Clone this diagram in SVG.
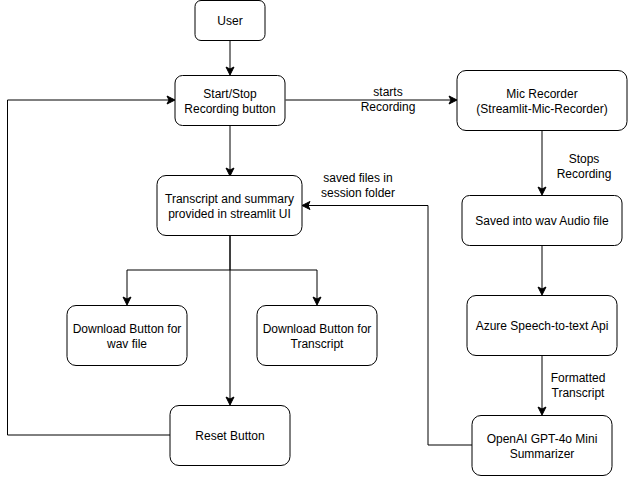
<svg xmlns="http://www.w3.org/2000/svg" width="628" height="477" viewBox="0 0 628 477">
<style>
.n{fill:#fff;stroke:#000;stroke-width:1}
.t{font-family:"Liberation Sans",Arial,sans-serif;font-size:12px;fill:#000;text-anchor:middle}
.e{fill:none;stroke:#000;stroke-width:1}
</style>
<defs>
<marker id="a" markerWidth="10" markerHeight="10" refX="8" refY="5" orient="auto" markerUnits="userSpaceOnUse">
<path d="M1,1 L9,5 L1,9 L3,5 Z" fill="#000" stroke="#000" stroke-width="1"/>
</marker>
</defs>
<rect width="628" height="477" fill="#fff"/>
<g id="connectors">
<path class="e" d="M230,40.5 V74" marker-end="url(#a)"/>
<path class="e" d="M230,125.5 V175" marker-end="url(#a)"/>
<path class="e" d="M285.5,100 H456" marker-end="url(#a)"/>
<text class="t" x="388" y="96">starts</text>
<text class="t" x="388" y="111">Recording</text>
<path class="e" d="M542,130.5 V194" marker-end="url(#a)"/>
<text class="t" x="584" y="163">Stops</text>
<text class="t" x="584" y="178">Recording</text>
<path class="e" d="M542,245.5 V294" marker-end="url(#a)"/>
<path class="e" d="M542,355.5 V414" marker-end="url(#a)"/>
<text class="t" x="578" y="382">Formatted</text>
<text class="t" x="578" y="397">Transcript</text>
<path class="e" d="M472,445 H428 V205.5 H303" marker-end="url(#a)"/>
<text class="t" x="358" y="182">saved files in</text>
<text class="t" x="358" y="197">session folder</text>
<path class="e" d="M230,236 V270 H127 V304" marker-end="url(#a)"/>
<path class="e" d="M230,270 H317 V304" marker-end="url(#a)"/>
<path class="e" d="M230,236 V404" marker-end="url(#a)"/>
<path class="e" d="M170,435 H7.5 V100 H174" marker-end="url(#a)"/>
</g>
<g id="user"><rect class="n" x="195" y="0.5" width="70" height="40" rx="6"/><text class="t" x="230" y="25">User</text></g>
<g id="startstop"><rect class="n" x="175" y="75.5" width="110" height="50" rx="7.5"/><text class="t" x="230" y="98">Start/Stop</text><text class="t" x="230" y="113">Recording button</text></g>
<g id="transcript"><rect class="n" x="157" y="175.5" width="145" height="60" rx="9"/><text class="t" x="229.5" y="203">Transcript and summary</text><text class="t" x="229.5" y="218">provided in streamlit UI</text></g>
<g id="mic"><rect class="n" x="457" y="70.5" width="170" height="60" rx="9"/><text class="t" x="542" y="98">Mic Recorder</text><text class="t" x="542" y="113">(Streamlit-Mic-Recorder)</text></g>
<g id="wav"><rect class="n" x="462" y="195.5" width="160" height="50" rx="7.5"/><text class="t" x="542" y="225">Saved into wav Audio file</text></g>
<g id="azure"><rect class="n" x="467" y="295.5" width="150" height="60" rx="9"/><text class="t" x="542" y="330">Azure Speech-to-text Api</text></g>
<g id="openai"><rect class="n" x="472" y="415.5" width="140" height="60" rx="9"/><text class="t" x="542" y="443">OpenAI GPT-4o Mini</text><text class="t" x="542" y="458">Summarizer</text></g>
<g id="dlwav"><rect class="n" x="67" y="305.5" width="120" height="60" rx="9"/><text class="t" x="127" y="333">Download Button for</text><text class="t" x="127" y="348">wav file</text></g>
<g id="dltranscript"><rect class="n" x="257" y="305.5" width="120" height="60" rx="9"/><text class="t" x="317" y="333">Download Button for</text><text class="t" x="317" y="348">Transcript</text></g>
<g id="reset"><rect class="n" x="170" y="405.5" width="120" height="60" rx="9"/><text class="t" x="230" y="440">Reset Button</text></g>
</svg>
